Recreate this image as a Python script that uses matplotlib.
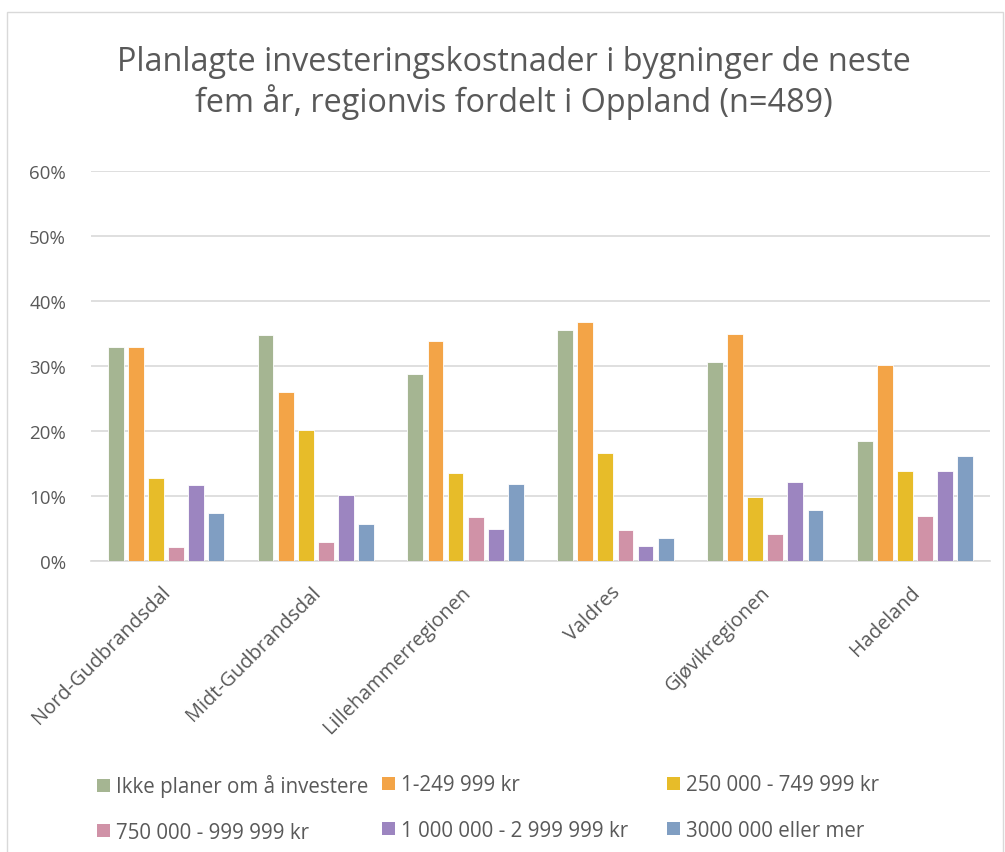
import matplotlib
matplotlib.use("Agg")
import matplotlib.pyplot as plt
import matplotlib.transforms as mtransforms
import numpy as np
from matplotlib.patches import Patch, Rectangle
from matplotlib import ticker

regions = ["Nord-Gudbrandsdal", "Midt-Gudbrandsdal", "Lillehammerregionen",
           "Valdres", "Gjøvikregionen", "Hadeland"]
series = ["Ikke planer om å investere", "1-249 999 kr", "250 000 - 749 999 kr",
          "750 000 - 999 999 kr", "1 000 000 - 2 999 999 kr", "3000 000 eller mer"]
colors = ["#A5B592", "#F3A447", "#E7BC29", "#D092A7", "#9C85C0", "#809EC2"]

ikke = [32.9, 34.7, 28.7, 35.6, 30.6, 18.5]
kr_1_249 = [32.9, 26.0, 33.8, 36.8, 34.9, 30.1]
kr_250_749 = [12.7, 20.2, 13.5, 16.6, 9.9, 13.9]
kr_750_999 = [2.1, 2.9, 6.7, 4.8, 4.2, 6.9]
kr_1m_3m = [11.7, 10.1, 5.0, 2.3, 12.1, 13.9]
kr_3m_plus = [7.4, 5.7, 11.8, 3.5, 7.8, 16.2]
values = [ikke, kr_1_249, kr_250_749, kr_750_999, kr_1m_3m, kr_3m_plus]

txt = "#595959"
grid = "#D9D9D9"
plt.rcParams["font.family"] = ["Open Sans", "DejaVu Sans"]

fig = plt.figure(figsize=(10.05, 8.53), dpi=100)
ax = fig.add_axes([91 / 1005, 1 - 562 / 853, 899 / 1005, 390 / 853])

# chart frame
fig.patches.append(Rectangle((7 / 1005, -0.05), 996 / 1005, 1.05 - 13 / 853,
                             transform=fig.transFigure, fill=False,
                             edgecolor=grid, linewidth=1))

x = np.arange(len(regions))
step = 0.134
width = 0.106
for i, (name, vals) in enumerate(zip(series, values)):
    ax.bar(x + (i - 2.5) * step, vals, width, color=colors[i],
           edgecolor="white", linewidth=0.6, label=name, zorder=3)

ax.set_xlim(-0.5, len(regions) - 0.5)
ax.set_ylim(0, 60)
ax.yaxis.set_major_locator(ticker.MultipleLocator(10))
ax.yaxis.set_major_formatter(ticker.FuncFormatter(lambda v, p: "%d%%" % v))
ax.grid(axis="y", color=grid, linewidth=1.2, zorder=0)
for s in ["top", "right", "left"]:
    ax.spines[s].set_visible(False)
ax.spines["bottom"].set_color(grid)
ax.spines["bottom"].set_linewidth(1.2)
ax.tick_params(axis="both", length=0, colors=txt, labelsize=13.5)
ax.tick_params(axis="y", pad=18)
ax.set_xticks(x)
ax.set_xticklabels(regions, rotation=45, ha="right", rotation_mode="anchor",
                   fontsize=14.3)
ax.tick_params(axis="x", pad=15)
shift = mtransforms.ScaledTranslation(-5 / 100, 0, fig.dpi_scale_trans)
for lab in ax.get_xticklabels():
    lab.set_transform(lab.get_transform() + shift)

fig.text(0.511, 1 - 83 / 853,
         "Planlagte investeringskostnader i bygninger de neste\n"
         "fem år, regionvis fordelt i Oppland (n=489)",
         ha="center", va="center", fontsize=23.3, color=txt, linespacing=1.22)

# legend: three columns laid out like the original
col_x = [87, 372, 657]
for c in range(3):
    hs = [Patch(facecolor=colors[c], label=series[c]),
          Patch(facecolor=colors[c + 3], label=series[c + 3])]
    fig.legend(handles=hs, loc="upper left",
               bbox_to_anchor=(col_x[c] / 1005, 1 - 765 / 853),
               frameon=False, fontsize=14.8, labelcolor=txt,
               handlelength=0.6, handleheight=0.6, handletextpad=0.3,
               labelspacing=1.2, borderpad=0)

fig.savefig("out.png", dpi=100)
